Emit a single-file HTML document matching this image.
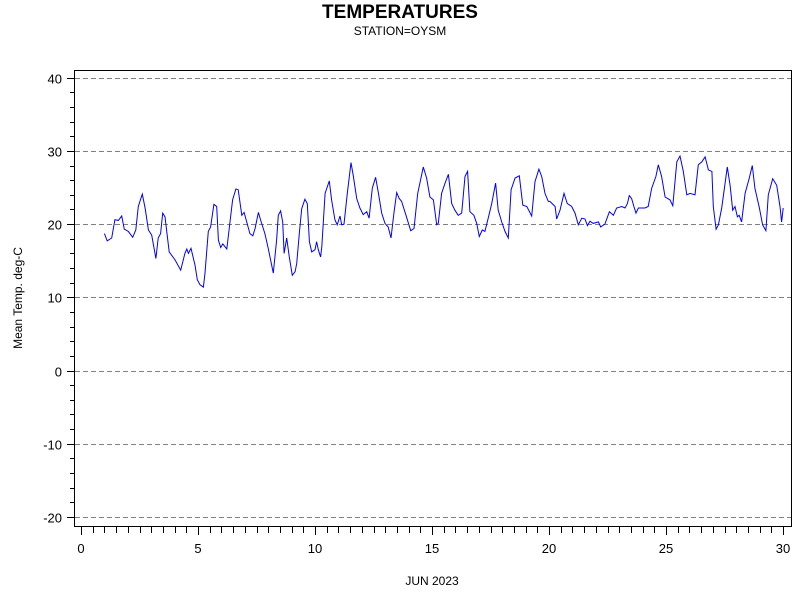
<!DOCTYPE html>
<html><head><meta charset="utf-8"><style>
body{margin:0;background:#fff;width:800px;height:600px;overflow:hidden}
svg{display:block;font-family:"Liberation Sans",sans-serif}
</style></head><body>
<svg id="chart" width="800" height="600" viewBox="0 0 800 600">
<text x="400" y="18" text-anchor="middle" font-size="19" font-weight="bold">TEMPERATURES</text>
<text x="400" y="35" text-anchor="middle" font-size="12">STATION=OYSM</text>
<text transform="translate(22,298) rotate(-90)" text-anchor="middle" font-size="12">Mean Temp. deg-C</text>
<text x="432" y="585" text-anchor="middle" font-size="12">JUN 2023</text>
<g id="grid"></g><g id="axes"></g><g id="series"></g>
<rect x="74.5" y="70.5" width="717" height="456" fill="none" stroke="#000" stroke-width="1"/>
</svg>
<script>
const days=[1.0,1.12,1.31,1.45,1.6,1.74,1.85,2.02,2.21,2.34,2.45,2.62,2.74,2.88,3.02,3.2,3.3,3.4,3.49,3.59,3.77,4.02,4.26,4.44,4.52,4.59,4.7,4.87,4.97,5.09,5.23,5.3,5.44,5.54,5.68,5.8,5.87,5.97,6.06,6.23,6.34,6.48,6.62,6.72,6.87,6.97,7.08,7.22,7.34,7.44,7.58,7.68,7.86,8.0,8.22,8.36,8.43,8.53,8.62,8.68,8.79,8.9,9.03,9.15,9.22,9.33,9.43,9.57,9.67,9.76,9.86,10.0,10.07,10.14,10.24,10.29,10.43,10.61,10.71,10.85,10.95,11.07,11.14,11.24,11.38,11.54,11.64,11.78,11.92,12.06,12.21,12.31,12.45,12.59,12.7,12.85,12.99,13.13,13.25,13.38,13.49,13.6,13.7,13.89,14.09,14.23,14.39,14.63,14.77,14.91,15.06,15.2,15.27,15.41,15.56,15.7,15.84,15.98,16.12,16.27,16.41,16.52,16.62,16.79,16.91,17.02,17.15,17.26,17.4,17.55,17.72,17.83,17.98,18.12,18.26,18.38,18.55,18.73,18.88,19.05,19.26,19.4,19.57,19.69,19.83,19.97,20.04,20.26,20.33,20.47,20.64,20.78,20.97,21.11,21.25,21.4,21.54,21.64,21.75,21.89,22.11,22.21,22.39,22.58,22.75,22.89,23.11,23.25,23.35,23.43,23.53,23.63,23.72,23.82,23.96,24.1,24.24,24.39,24.57,24.67,24.81,24.96,25.17,25.29,25.46,25.6,25.74,25.89,26.03,26.24,26.38,26.53,26.67,26.81,26.96,27.02,27.14,27.24,27.38,27.62,27.74,27.85,27.95,28.05,28.13,28.23,28.38,28.56,28.69,28.8,28.99,29.13,29.27,29.37,29.56,29.73,29.87,29.94,30.01];
const temps=[18.7,17.7,18.1,20.6,20.5,21.1,19.3,19.0,18.2,19.2,22.4,24.1,22.2,19.2,18.5,15.3,18.1,18.7,21.5,21.0,16.2,15.1,13.7,16.0,16.6,16.0,16.7,14.4,12.4,11.7,11.4,13.3,19.0,19.6,22.7,22.4,17.8,16.8,17.3,16.6,19.6,23.3,24.8,24.7,21.2,21.6,20.3,18.7,18.4,19.4,21.6,20.5,18.7,16.7,13.3,17.8,21.2,21.8,20.3,16.0,18.1,15.5,13.0,13.5,14.6,18.7,22.1,23.4,22.8,17.6,16.2,16.5,17.6,16.5,15.5,16.9,24.2,25.9,23.3,20.6,19.9,21.1,19.9,20.0,24.2,28.4,26.5,23.5,22.2,21.3,21.7,20.8,24.9,26.4,24.4,21.5,20.1,19.6,18.1,21.7,24.3,23.5,23.1,21.2,19.1,19.4,24.2,27.8,26.3,23.7,23.3,19.9,20.1,24.2,25.6,26.8,22.8,21.9,21.2,21.5,26.5,27.2,21.7,21.2,20.1,18.3,19.2,19.0,20.8,22.8,25.6,21.9,20.3,19.0,18.1,24.7,26.3,26.6,22.6,22.4,21.1,25.8,27.5,26.5,24.2,23.1,23.1,22.4,20.7,21.9,24.2,22.8,22.4,21.5,19.9,20.8,20.7,19.8,20.4,20.1,20.3,19.6,20.0,21.7,21.2,22.2,22.4,22.2,22.8,23.9,23.5,22.4,21.5,22.2,22.2,22.2,22.4,24.9,26.5,28.1,26.5,23.7,23.3,22.5,28.5,29.3,27.2,24.0,24.2,24.0,28.1,28.5,29.2,27.4,27.2,22.4,19.3,19.9,22.2,27.8,25.3,21.9,22.4,21.0,21.2,20.3,24.2,26.3,28.0,24.9,22.2,19.9,19.1,24.0,26.2,25.3,22.4,20.3,22.2];
const yTicks=[-20,-10,0,10,20,30,40];
const xTicks=[0,5,10,15,20,25,30];
const NS="http://www.w3.org/2000/svg";
const xs=d=>81+d*23.4;
const ys=v=>370.5-v*7.32;
function mk(tag,attrs,parent){const e=document.createElementNS(NS,tag);for(const k in attrs)e.setAttribute(k,attrs[k]);parent.appendChild(e);return e;}
const grid=document.getElementById('grid'),axes=document.getElementById('axes'),series=document.getElementById('series');
yTicks.forEach(v=>{
  const y=Math.round(ys(v))+0.5;
  const g=mk('line',{x1:75,x2:791,y1:y,y2:y,stroke:'#808080','stroke-dasharray':'5,3'},grid);
  
  
  const t=mk('line',{x1:67,x2:74,y1:y,y2:y,stroke:'#000'},axes);
  
  
  const l=mk('text',{x:62,y:y+5,'text-anchor':'end','font-size':13},axes);
  l.textContent=v;
  
  
});
for(let v=-22;v<=41;v+=2){if(v%10===0)continue;const y=Math.round(ys(v))+0.5;if(y<71||y>526)continue;
  const m=mk('line',{x1:70,x2:74,y1:y,y2:y,stroke:'#000'},axes);
  
  }
for(let d=0;d<=30;d+=0.5){const x=Math.round(xs(d))+0.5;const major=d%5===0;
  const m=mk('line',{x1:x,x2:x,y1:527,y2:major?535:533,stroke:'#000'},axes);
  
  }
xTicks.forEach(d=>{
  const l=mk('text',{x:xs(d),y:553,'text-anchor':'middle','font-size':13},axes);
  l.textContent=d;
  
  
});
const pts=days.map((d,i)=>xs(d).toFixed(1)+','+ys(temps[i]).toFixed(1)).join(' ');
const line=mk('polyline',{points:pts,fill:'none',stroke:'#0000ff','stroke-width':1},series);


</script>
</body></html>
